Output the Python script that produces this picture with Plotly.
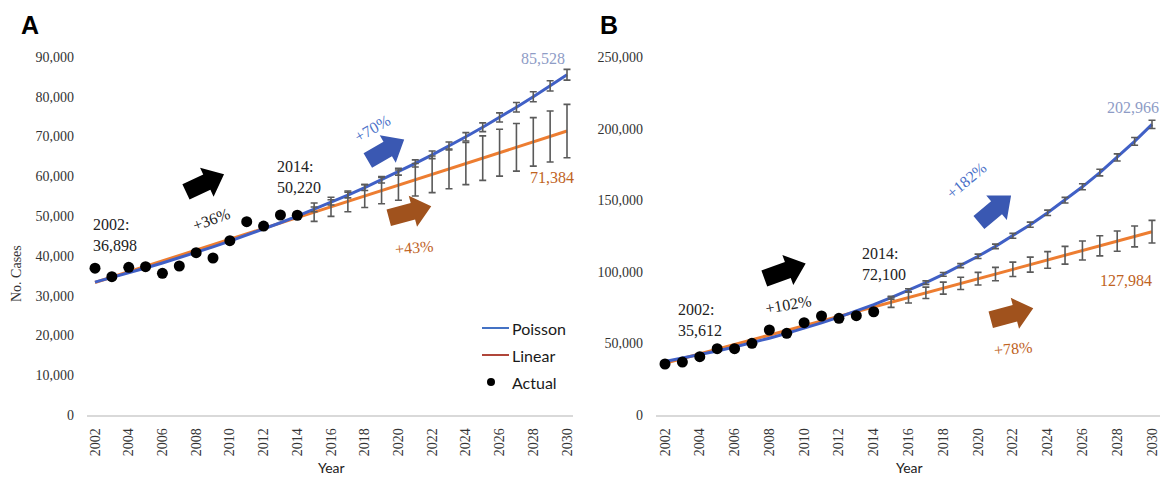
import math
import plotly.graph_objects as go

W, H = 1169, 479
OX, OY = 8, 8  # page body offset compensation

# ---------------- data ----------------
years = list(range(2002, 2031))
actual_years = list(range(2002, 2015))
forecast_years = list(range(2015, 2031))

# Panel A
a_actual = [36898, 34770, 37130, 37290, 35610, 37460, 40800, 39470, 43820, 48600, 47510, 50280, 50220]
a_poisson = [33400, 34541, 35721, 36942, 38204, 39510, 40860, 42256, 43700, 45193, 46737, 48334, 49986,
             51694, 53460, 55287, 57176, 59130, 61150, 63240, 65401, 67636, 69947, 72337, 74809, 77365,
             80009, 82743, 85528]
a_linear = [33300, 34660, 36020, 37380, 38740, 40100, 41460, 42820, 44180, 45540, 46900, 48260, 49620,
            50980, 52340, 53700, 55060, 56420, 57780, 59140, 60500, 61860, 63220, 64580, 65940, 67300,
            68660, 70020, 71384]
a_poisson_err = [600, 650, 700, 750, 800, 850, 900, 950, 1000, 1050, 1100, 1150, 1200, 1250, 1300, 1350]
a_linear_err = [2300, 2400, 2600, 2900, 3300, 3800, 4100, 4600, 5000, 5300, 5600, 5900, 6000, 6100, 6400, 6700]

# Panel B
b_actual = [35612, 37000, 40730, 46320, 46300, 50050, 59360, 57030, 64480, 69130, 67500, 69370, 72100]
b_poisson = [37300, 39626, 42098, 44723, 47513, 50477, 53625, 56970, 60523, 64298, 68309, 72570, 77096,
             81905, 87014, 92441, 98207, 104333, 110840, 117754, 125099, 132902, 141191, 149998, 159354,
             169293, 179853, 191071, 202966]
b_linear = [36100, 39382, 42663, 45945, 49227, 52508, 55790, 59072, 62354, 65635, 68917, 72199, 75480,
            78762, 82044, 85325, 88607, 91889, 95171, 98452, 101734, 105016, 108297, 111579, 114861,
            118143, 121424, 124706, 127984]
b_poisson_err = [1000, 1100, 1200, 1300, 1400, 1500, 1600, 1700, 1800, 1900, 2000, 2100, 2300, 2500, 2700, 2900]
b_linear_err = [3600, 3800, 4000, 4200, 4300, 4400, 4650, 5000, 5250, 5800, 6200, 6600, 7000, 7100, 7300, 7900]

x_ticks = list(range(2002, 2031, 2))
a_y_ticks = list(range(0, 90001, 10000))
b_y_ticks = list(range(0, 250001, 50000))

# ---------------- style ----------------
BLUE = "#4060C6"
ORANGE = "#ED7D31"
ERR = "#5A5A5A"
SERIF = "Liberation Serif, Times New Roman, serif"
SANS = "Lato, Open Sans, sans-serif"


def P(x, y):
    return (x - OX) / W, 1 - (y - OY) / H


def XD(x0, x1):
    return [(x0 - OX) / W, (x1 - OX) / W]


def YD(top, bottom):
    return [1 - (bottom - OY) / H, 1 - (top - OY) / H]


fig = go.Figure()


def add_panel(xa, ya, poisson, linear, actual, perr, lerr):
    fig.add_trace(go.Scatter(x=years, y=linear, mode="lines", line=dict(color=ORANGE, width=3),
                             xaxis=xa, yaxis=ya, showlegend=False, name="Linear"))
    fig.add_trace(go.Scatter(x=years, y=poisson, mode="lines", line=dict(color=BLUE, width=3),
                             xaxis=xa, yaxis=ya, showlegend=False, name="Poisson"))
    n = len(forecast_years)
    fig.add_trace(go.Scatter(x=forecast_years, y=linear[-n:], mode="markers",
                             marker=dict(size=1, opacity=0),
                             error_y=dict(type="data", array=lerr, color=ERR, thickness=1.6, width=3.5),
                             xaxis=xa, yaxis=ya, showlegend=False, hoverinfo="skip"))
    fig.add_trace(go.Scatter(x=forecast_years, y=poisson[-n:], mode="markers",
                             marker=dict(size=1, opacity=0),
                             error_y=dict(type="data", array=perr, color=ERR, thickness=1.6, width=3.5),
                             xaxis=xa, yaxis=ya, showlegend=False, hoverinfo="skip"))
    fig.add_trace(go.Scatter(x=actual_years, y=actual, mode="markers",
                             marker=dict(color="black", size=11),
                             xaxis=xa, yaxis=ya, showlegend=False, name="Actual"))


add_panel("x", "y", a_poisson, a_linear, a_actual, a_poisson_err, a_linear_err)
add_panel("x2", "y2", b_poisson, b_linear, b_actual, b_poisson_err, b_linear_err)

ydom = YD(57, 415)
common_x = dict(tickmode="array", tickvals=x_ticks, ticktext=[str(v) for v in x_ticks], tickangle=-90,
                showgrid=False, zeroline=False, showline=True, linecolor="#D9D9D9", linewidth=1.5,
                ticks="", tickfont=dict(family=SERIF, size=14, color="#333333"), ticklabelstandoff=6,
                automargin=False)
common_y = dict(showgrid=False, zeroline=False, showline=False, ticks="", tickformat=",d",
                tickfont=dict(family=SERIF, size=14, color="#333333"), ticklabelstandoff=12,
                automargin=False)

fig.update_layout(
    template="none",
    width=W, height=H, margin=dict(l=0, r=0, t=0, b=0, pad=0, autoexpand=False),
    paper_bgcolor="white", plot_bgcolor="white", showlegend=False,
    xaxis=dict(domain=XD(87, 573), range=[2001.525, 2030.356], anchor="y", **common_x),
    yaxis=dict(domain=ydom, range=[0, 90000], tickvals=a_y_ticks, anchor="x", **common_y),
    xaxis2=dict(domain=XD(656, 1160), range=[2001.483, 2030.46], anchor="y2", **common_x),
    yaxis2=dict(domain=ydom, range=[0, 250000], tickvals=b_y_ticks, anchor="x2", **common_y),
)

annotations = []


def text(x, y, s, size=16, color="#222222", family=SERIF, angle=0, xanchor="center", align="center"):
    px, py = P(x, y)
    annotations.append(dict(x=px, y=py, xref="paper", yref="paper", text=s, showarrow=False,
                            xanchor=xanchor, yanchor="middle", align=align, textangle=angle,
                            borderpad=0, font=dict(family=family, size=size, color=color)))


LBLUE = "#4A70C8"
GBLUE = "#8E9CC6"
BROWN_T = "#C0631E"

# Panel labels
text(30, 25, "<b>A</b>", size=25, color="#000000", family="Liberation Sans, Arial, sans-serif")
text(609, 25, "<b>B</b>", size=25, color="#000000", family="Liberation Sans, Arial, sans-serif")

# Panel A texts
text(92, 235, "2002:<br>36,898", xanchor="left", align="left")
text(276, 177, "2014:<br>50,220", xanchor="left", align="left")
text(211, 219, "+36%", angle=-20)
text(372, 128, "+70%", color=LBLUE, angle=-30)
text(414, 247, "+43%", color=BROWN_T, angle=-5)
text(543, 58, "85,528", color=GBLUE)
text(552, 177, "71,384", color=BROWN_T)
text(16, 274, "No. Cases", size=14, color="#333333", angle=-90)
text(331, 467, "Year", size=14, color="#222222", family=SANS)

# Panel B texts
text(677, 320, "2002:<br>35,612", xanchor="left", align="left")
text(861, 264, "2014:<br>72,100", xanchor="left", align="left")
text(788, 304, "+102%", angle=-10)
text(966, 180, "+182%", color=LBLUE, angle=-40)
text(1013, 348, "+78%", color=BROWN_T, angle=-5)
text(1133, 107, "202,966", color=GBLUE)
text(1126, 280, "127,984", color=BROWN_T)
text(909, 467, "Year", size=14, color="#222222", family=SANS)

# Legend (panel A)
text(511, 328, "Poisson", size=16, color="#1a1a1a", family=SANS, xanchor="left")
text(511, 355, "Linear", size=16, color="#1a1a1a", family=SANS, xanchor="left")
text(511, 382, "Actual", size=16, color="#1a1a1a", family=SANS, xanchor="left")

shapes = []


def hline(x0, x1, y, color):
    a, b = P(x0, y)
    c, _ = P(x1, y)
    shapes.append(dict(type="line", xref="paper", yref="paper", x0=a, y0=b, x1=c, y1=b,
                       line=dict(color=color, width=2)))


hline(482, 509, 328, "#4472C4")
hline(482, 509, 355, "#B0463A")
cx0, cy0 = P(487, 378)
cx1, cy1 = P(495, 386)
shapes.append(dict(type="circle", xref="paper", yref="paper", x0=cx0, y0=cy0, x1=cx1, y1=cy1,
                   fillcolor="black", line=dict(color="black", width=0)))


def block_arrow(cx, cy, angle, L, ws, wh, lh, color):
    th = math.radians(angle)
    pts_local = [(-L / 2, -ws / 2), (L / 2 - lh, -ws / 2), (L / 2 - lh, -wh / 2), (L / 2, 0),
                 (L / 2 - lh, wh / 2), (L / 2 - lh, ws / 2), (-L / 2, ws / 2)]
    pts = []
    for u, v in pts_local:
        sx = cx + u * math.cos(th) - v * math.sin(th)
        sy = cy - (u * math.sin(th) + v * math.cos(th))
        px, py = P(sx, sy)
        pts.append(f"{px:.5f},{py:.5f}")
    path = "M " + " L ".join(pts) + " Z"
    shapes.append(dict(type="path", xref="paper", yref="paper", path=path, fillcolor=color,
                       line=dict(width=0)))


ABLUE = "#3A58B2"
ABROWN = "#A0521D"
block_arrow(205, 183, 25, 42, 17, 32, 19, "#000000")
block_arrow(386, 150, 30, 42, 17, 32, 19, ABLUE)
block_arrow(410, 212, 15, 44, 17, 32, 19, ABROWN)
block_arrow(785, 271, 20, 44, 17, 32, 19, "#000000")
block_arrow(995, 209, 40, 42, 17, 32, 19, ABLUE)
block_arrow(1012, 314, 15, 44, 17, 32, 19, ABROWN)

fig.update_layout(annotations=annotations, shapes=shapes)

fig.write_html("out.html")
